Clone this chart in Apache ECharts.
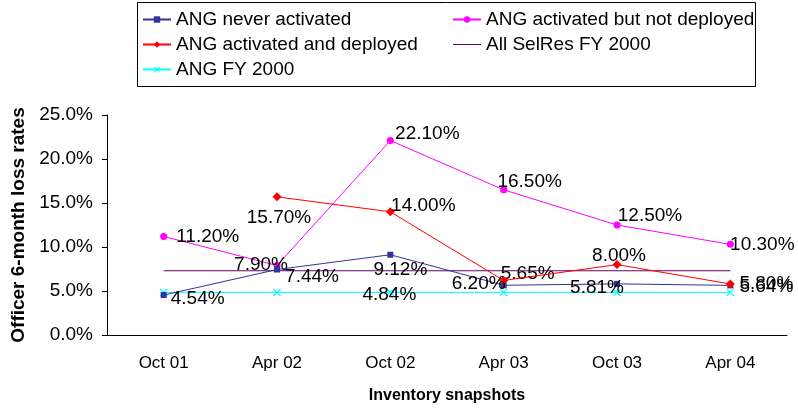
<!DOCTYPE html>
<html>
<head>
<meta charset="utf-8">
<script src="https://cdn.jsdelivr.net/npm/echarts@6/dist/echarts.min.js"></script>
<style>
  html, body { margin: 0; padding: 0; background: #fff; }
  #chart { width: 798px; height: 410px; }
</style>
</head>
<body>
<div id="chart"></div>
<script>
const categories = ['Oct 01', 'Apr 02', 'Oct 02', 'Apr 03', 'Oct 03', 'Apr 04'];
const neverActivated = [4.54, 7.44, 9.12, 5.65, 5.81, 5.64];
const activatedNotDeployed = [11.2, 7.9, 22.1, 16.5, 12.5, 10.3];
const activatedDeployed = [null, 15.7, 14.0, 6.2, 8.0, 5.8];
const allSelRes = [7.3, 7.3, 7.3, 7.3, 7.3, 7.3];
const angFY2000 = [4.84, 4.84, 4.84, 4.84, 4.84, 4.84];
const yTicks = [0, 5, 10, 15, 20, 25];

// label centre offsets from each point (null = no label)
const offNever = [[34, 4], [35, 7], [10, 15], [24, -12], [-20, 4], [36, 1]];
const offNotDep = [[44, 0], [-16, -1], [37, -7], [26, -8], [33, -9], [32, 0]];
const offDep = [null, [2, 21], [33, -6], [-25, 3], [2, -9], [36, 0]];
const offSelRes = [[36, -5], null, null, null, null, null];
const offFY = [null, null, [-1, 2], null, null, null];

const FONT = 'Liberation Sans, Arial, sans-serif';
const xMark = 'path://M0,1 L1,0 L5,4 L9,0 L10,1 L6,5 L10,9 L9,10 L5,6 L1,10 L0,9 L4,5 Z';
const lineIcon = 'path://M0,4.5 L28,4.5 L28,5.5 L0,5.5 Z';

function withLabels(values, offsets, fmt) {
  return values.map((v, i) => {
    const o = offsets[i];
    if (v == null) return null;
    if (!o) return { value: v, label: { show: false } };
    return { value: v, label: { show: true, position: 'inside', offset: o, formatter: () => fmt(v) } };
  });
}
const pct2 = v => v.toFixed(2) + '%';
const pct1 = v => v.toFixed(1) + '%';

const labelBase = { color: '#000', fontSize: 19, fontFamily: FONT };
const legendText = { color: '#000', fontSize: 19, fontFamily: FONT };

const chart = echarts.init(document.getElementById('chart'), null, { renderer: 'canvas' });
chart.setOption({
  animation: false,
  backgroundColor: '#fff',
  graphic: [{
    type: 'rect', left: 137, top: 2, z: 0,
    shape: { width: 618, height: 84 },
    style: { fill: '#fff', stroke: '#000', lineWidth: 1 }
  }],
  legend: [
    {
      left: 137, top: 5, orient: 'vertical', itemGap: 6, itemWidth: 28, itemHeight: 8,
      textStyle: legendText,
      data: ['ANG never activated', 'ANG activated and deployed', 'ANG FY 2000']
    },
    {
      left: 447, top: 5, orient: 'vertical', itemGap: 6, itemWidth: 28, itemHeight: 8,
      textStyle: legendText,
      data: ['ANG activated but not deployed', { name: 'All SelRes FY 2000', icon: lineIcon }]
    }
  ],
  grid: { left: 107, right: 11, top: 115, bottom: 75 },
  xAxis: {
    type: 'category', data: categories,
    name: 'Inventory snapshots', nameLocation: 'middle', nameGap: 53,
    nameTextStyle: { color: '#000', fontSize: 16, fontWeight: 'bold', fontFamily: FONT },
    axisLine: { lineStyle: { color: '#000', width: 1 } },
    axisTick: { lineStyle: { color: '#000' }, length: 5 },
    axisLabel: { color: '#000', fontSize: 17, fontFamily: FONT, margin: 20 }
  },
  yAxis: {
    type: 'value', min: yTicks[0], max: yTicks[yTicks.length - 1], interval: 5,
    name: 'Officer 6-month loss rates', nameLocation: 'middle', nameGap: 78,
    nameTextStyle: { color: '#000', fontSize: 19, fontWeight: 'bold', fontFamily: FONT },
    axisLine: { show: true, lineStyle: { color: '#000', width: 1 } },
    axisTick: { show: true, lineStyle: { color: '#000' }, length: 5 },
    splitLine: { show: false },
    axisLabel: { color: '#000', fontSize: 19, fontFamily: FONT, margin: 14, formatter: v => v.toFixed(1) + '%' }
  },
  series: [
    {
      name: 'ANG never activated', type: 'line', z: 4,
      data: withLabels(neverActivated, offNever, pct2),
      symbol: 'rect', symbolSize: 6, showAllSymbol: true,
      itemStyle: { color: '#333399' }, lineStyle: { color: '#333399', width: 1 },
      label: labelBase
    },
    {
      name: 'ANG activated but not deployed', type: 'line', z: 3,
      data: withLabels(activatedNotDeployed, offNotDep, pct2),
      symbol: 'circle', symbolSize: 7, showAllSymbol: true,
      itemStyle: { color: '#ff00ff' }, lineStyle: { color: '#ff00ff', width: 1 },
      label: labelBase
    },
    {
      name: 'ANG activated and deployed', type: 'line', z: 5,
      data: withLabels(activatedDeployed, offDep, pct2),
      symbol: 'diamond', symbolSize: 9, showAllSymbol: true, connectNulls: false,
      itemStyle: { color: '#ff0000' }, lineStyle: { color: '#ff0000', width: 1 },
      label: labelBase
    },
    {
      name: 'All SelRes FY 2000', type: 'line', z: 2,
      data: withLabels(allSelRes, offSelRes, pct1),
      symbol: 'none', showSymbol: false,
      itemStyle: { color: '#660066' }, lineStyle: { color: '#660066', width: 1 },
      label: labelBase
    },
    {
      name: 'ANG FY 2000', type: 'line', z: 1,
      data: withLabels(angFY2000, offFY, pct2),
      symbol: xMark, symbolSize: 8, showAllSymbol: true,
      itemStyle: { color: '#00ffff' }, lineStyle: { color: '#00ffff', width: 1 },
      label: labelBase
    }
  ]
});
</script>
</body>
</html>
